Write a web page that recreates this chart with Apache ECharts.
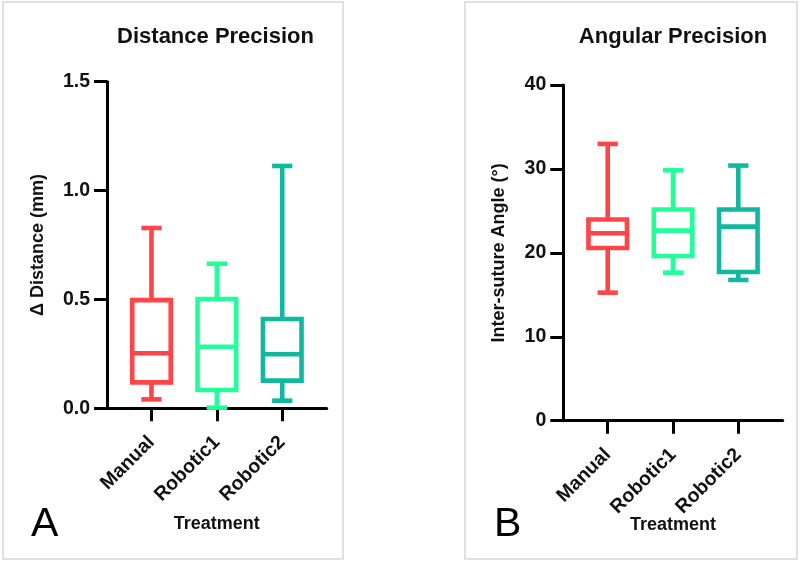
<!DOCTYPE html>
<html>
<head>
<meta charset="utf-8">
<script src="https://cdn.jsdelivr.net/npm/echarts@6/dist/echarts.min.js"></script>
<style>
html,body{margin:0;padding:0;background:#fff;}
#chart{width:800px;height:562px;}
</style>
</head>
<body>
<div id="chart"></div>
<script>
// ---- data ----
const categories = ['Manual', 'Robotic1', 'Robotic2'];
const groupColors = ['#FF4548', '#22FF9A', '#12B89E'];
// [min, Q1, median, Q3, max]
const distanceManual   = [0.041, 0.119, 0.253, 0.497, 0.828];
const distanceRobotic1 = [0.003, 0.084, 0.283, 0.502, 0.664];
const distanceRobotic2 = [0.035, 0.127, 0.248, 0.410, 1.113];
const angleManual   = [15.26, 20.58, 22.33, 23.98, 32.98];
const angleRobotic1 = [17.64, 19.63, 22.65, 25.17, 29.84];
const angleRobotic2 = [16.77, 17.72, 23.12, 25.17, 30.40];
const distanceTicks = [0, 0.5, 1.0, 1.5];
const angleTicks = [0, 10, 20, 30, 40];

const FONT = '"Liberation Sans", Arial, Helvetica, sans-serif';

function toItems(groups) {
  return groups.map((g, i) => ({
    value: [i].concat(g),
    itemStyle: { color: groupColors[i] }
  }));
}

function renderBox(params, api) {
  const x = api.value(0);
  const pMin = api.coord([x, api.value(1)]);
  const pQ1 = api.coord([x, api.value(2)]);
  const pMed = api.coord([x, api.value(3)]);
  const pQ3 = api.coord([x, api.value(4)]);
  const pMax = api.coord([x, api.value(5)]);
  const unit = api.size([1, 0])[0];
  const bw = unit * 0.59;
  const cw = unit * 0.31;
  const cx = pMed[0];
  const color = api.visual('color');
  const st = { stroke: color, lineWidth: 4.6, fill: null, lineCap: 'butt' };
  return {
    type: 'group',
    children: [
      { type: 'line', shape: { x1: cx, y1: pQ3[1], x2: cx, y2: pMax[1] }, style: st },
      { type: 'line', shape: { x1: cx, y1: pQ1[1], x2: cx, y2: pMin[1] }, style: st },
      { type: 'line', shape: { x1: cx - cw / 2, y1: pMax[1], x2: cx + cw / 2, y2: pMax[1] }, style: st },
      { type: 'line', shape: { x1: cx - cw / 2, y1: pMin[1], x2: cx + cw / 2, y2: pMin[1] }, style: st },
      { type: 'rect', shape: { x: cx - bw / 2, y: pQ3[1], width: bw, height: pQ1[1] - pQ3[1] },
        style: { stroke: color, lineWidth: 4.6, fill: '#fff' } },
      { type: 'line', shape: { x1: cx - bw / 2, y1: pMed[1], x2: cx + bw / 2, y2: pMed[1] }, style: st }
    ]
  };
}

function xAxisCfg(gridIndex, nameGap) {
  return {
    type: 'value', gridIndex: gridIndex, min: -0.68, max: 2.68,
    name: 'Treatment', nameLocation: 'middle', nameGap: nameGap, nameMoveOverlap: false,
    nameTextStyle: { fontFamily: FONT, fontWeight: 'bold', fontSize: 18, color: '#111' },
    axisLine: { show: true, onZero: false, lineStyle: { color: '#000', width: 3 } },
    axisTick: { show: true, customValues: [0, 1, 2], length: 13, lineStyle: { color: '#000', width: 3 } },
    axisLabel: {
      customValues: [0, 1, 2], rotate: 45, margin: 31,
      formatter: v => categories[Math.round(v)] || '',
      fontFamily: FONT, fontWeight: 'bold', fontSize: 19.5, color: '#111'
    },
    splitLine: { show: false }
  };
}

function yAxisCfg(gridIndex, ticks, name, nameGap, fmt) {
  return {
    type: 'value', gridIndex: gridIndex,
    min: ticks[0], max: ticks[ticks.length - 1], interval: ticks[1] - ticks[0],
    name: name, nameLocation: 'middle', nameGap: nameGap, nameMoveOverlap: false,
    nameTextStyle: { fontFamily: FONT, fontWeight: 'bold', fontSize: 18, color: '#111' },
    axisLine: { show: true, onZero: false, lineStyle: { color: '#000', width: 3 } },
    axisTick: { show: true, length: 13, lineStyle: { color: '#000', width: 3 } },
    axisLabel: { margin: 17, formatter: fmt, fontFamily: FONT, fontWeight: 'bold', fontSize: 19.5, color: '#111' },
    splitLine: { show: false }
  };
}

const chart = echarts.init(document.getElementById('chart'));
chart.setOption({
  backgroundColor: '#fff',
  animation: false,
  grid: [
    { left: 107, right: 473.3, top: 81.7, bottom: 153.7 },
    { left: 563.3, right: 17.3, top: 85, bottom: 141.3 }
  ],
  xAxis: [xAxisCfg(0, 107), xAxisCfg(1, 95)],
  yAxis: [
    yAxisCfg(0, distanceTicks, '\u0394 Distance (mm)', 60, v => v.toFixed(1)),
    yAxisCfg(1, angleTicks, 'Inter-suture Angle (\u00B0)', 55, v => String(v))
  ],
  series: [
    { type: 'custom', name: 'Distance', xAxisIndex: 0, yAxisIndex: 0,
      renderItem: renderBox, encode: { x: 0, y: [1, 2, 3, 4, 5] },
      data: toItems([distanceManual, distanceRobotic1, distanceRobotic2]) },
    { type: 'custom', name: 'Angle', xAxisIndex: 1, yAxisIndex: 1,
      renderItem: renderBox, encode: { x: 0, y: [1, 2, 3, 4, 5] },
      data: toItems([angleManual, angleRobotic1, angleRobotic2]) }
  ],
  graphic: [
    { type: 'rect', shape: { x: 3, y: 2, width: 340, height: 557 },
      style: { stroke: '#d6d6d6', lineWidth: 1.5, fill: null }, z: -1 },
    { type: 'rect', shape: { x: 465, y: 2, width: 332, height: 557 },
      style: { stroke: '#d6d6d6', lineWidth: 1.5, fill: null }, z: -1 },
    { type: 'text', x: 215.5, y: 37,
      style: { text: 'Distance Precision', font: 'bold 22px ' + FONT, fill: '#111', textAlign: 'center', textVerticalAlign: 'middle' } },
    { type: 'text', x: 673, y: 37,
      style: { text: 'Angular Precision', font: 'bold 22px ' + FONT, fill: '#111', textAlign: 'center', textVerticalAlign: 'middle' } },
    { type: 'text', x: 31, y: 525,
      style: { text: 'A', font: '41px ' + FONT, fill: '#000', textAlign: 'left', textVerticalAlign: 'middle' } },
    { type: 'text', x: 494, y: 525,
      style: { text: 'B', font: '41px ' + FONT, fill: '#000', textAlign: 'left', textVerticalAlign: 'middle' } }
  ]
});
</script>
</body>
</html>
